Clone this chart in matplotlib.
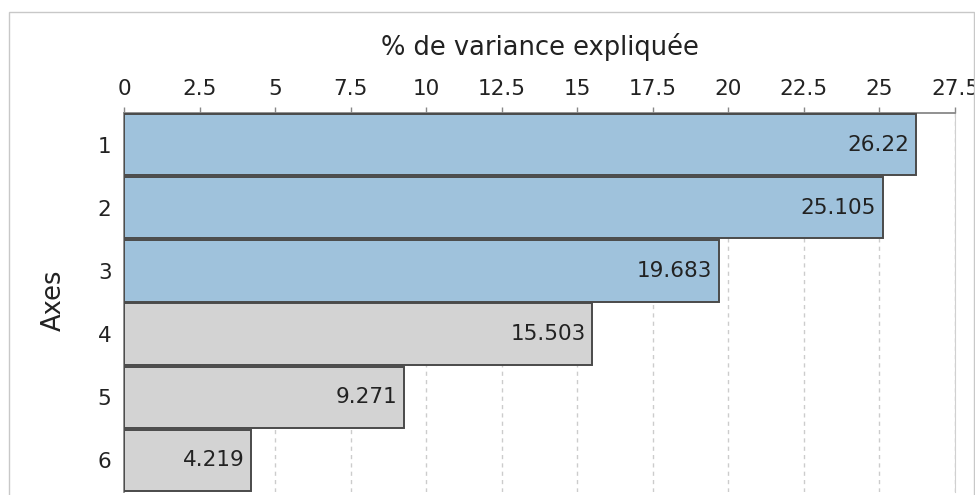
import matplotlib
matplotlib.use("Agg")
import matplotlib.pyplot as plt
from matplotlib.patches import Rectangle

axes_labels = ["1", "2", "3", "4", "5", "6"]
variance = [26.22, 25.105, 19.683, 15.503, 9.271, 4.219]
value_labels = ["26.22", "25.105", "19.683", "15.503", "9.271", "4.219"]
xticks = [0, 2.5, 5, 7.5, 10, 12.5, 15, 17.5, 20, 22.5, 25, 27.5]
xtick_labels = ["0", "2.5", "5", "7.5", "10", "12.5", "15", "17.5", "20", "22.5", "25", "27.5"]
colors = ["#9fc2dc"] * 3 + ["#d3d3d3"] * 3

plt.rcParams['font.family'] = ['DejaVu Sans']

W, H = 975, 495
fig = plt.figure(figsize=(W / 100, H / 100), dpi=100)
fig.patches.append(Rectangle((9 / W, -0.05), (974 - 9) / W, 1.05 - 12 / H,
                             transform=fig.transFigure, fill=False,
                             edgecolor="#c8c8c8", linewidth=1.0))

ax = fig.add_axes([124 / W, 1 - 492 / H, (955 - 124) / W, (492 - 113) / H])
pos = list(range(1, len(variance) + 1))
ax.barh(pos, variance, height=0.97, color=colors, edgecolor="#4a4a4a", linewidth=1.4, zorder=3)
for p, v, lab in zip(pos, variance, value_labels):
    ax.annotate(lab, xy=(v, p), xytext=(-5, 0), textcoords="offset points",
                ha="right", va="center", fontsize=15.5, color="#222222", zorder=4)

ax.set_xlim(0, 27.5)
ax.set_ylim(6.5, 0.5)
ax.xaxis.tick_top()
ax.xaxis.set_label_position("top")
ax.set_xticks(xticks)
ax.set_xticklabels(xtick_labels)
ax.set_yticks(pos)
ax.set_yticklabels(axes_labels)
ax.tick_params(axis="x", direction="out", length=4, width=1, color="#888888",
               labelsize=15.5, pad=6, labelcolor="#222222")
ax.tick_params(axis="y", length=0, labelsize=15.5, pad=9, labelcolor="#222222")
ax.set_xlabel("% de variance expliquée", fontsize=18.5, labelpad=17, color="#222222")
ax.set_ylabel("Axes", fontsize=18.5, color="#222222")
ax.yaxis.set_label_coords((67 - 124) / 831, (492 - 300) / 379)

ax.grid(axis="x", linestyle=(0, (3, 3)), color="#cccccc", linewidth=1.0, zorder=0)
ax.grid(axis="y", visible=False)
ax.spines["bottom"].set_visible(False)
ax.spines["top"].set_color("#888888")
ax.spines["left"].set_color("#888888")
ax.spines["right"].set_color("#d0d0d0")
ax.spines["top"].set_linewidth(1.3)
ax.spines["left"].set_linewidth(1.3)

fig.savefig("out.png", dpi=100)
